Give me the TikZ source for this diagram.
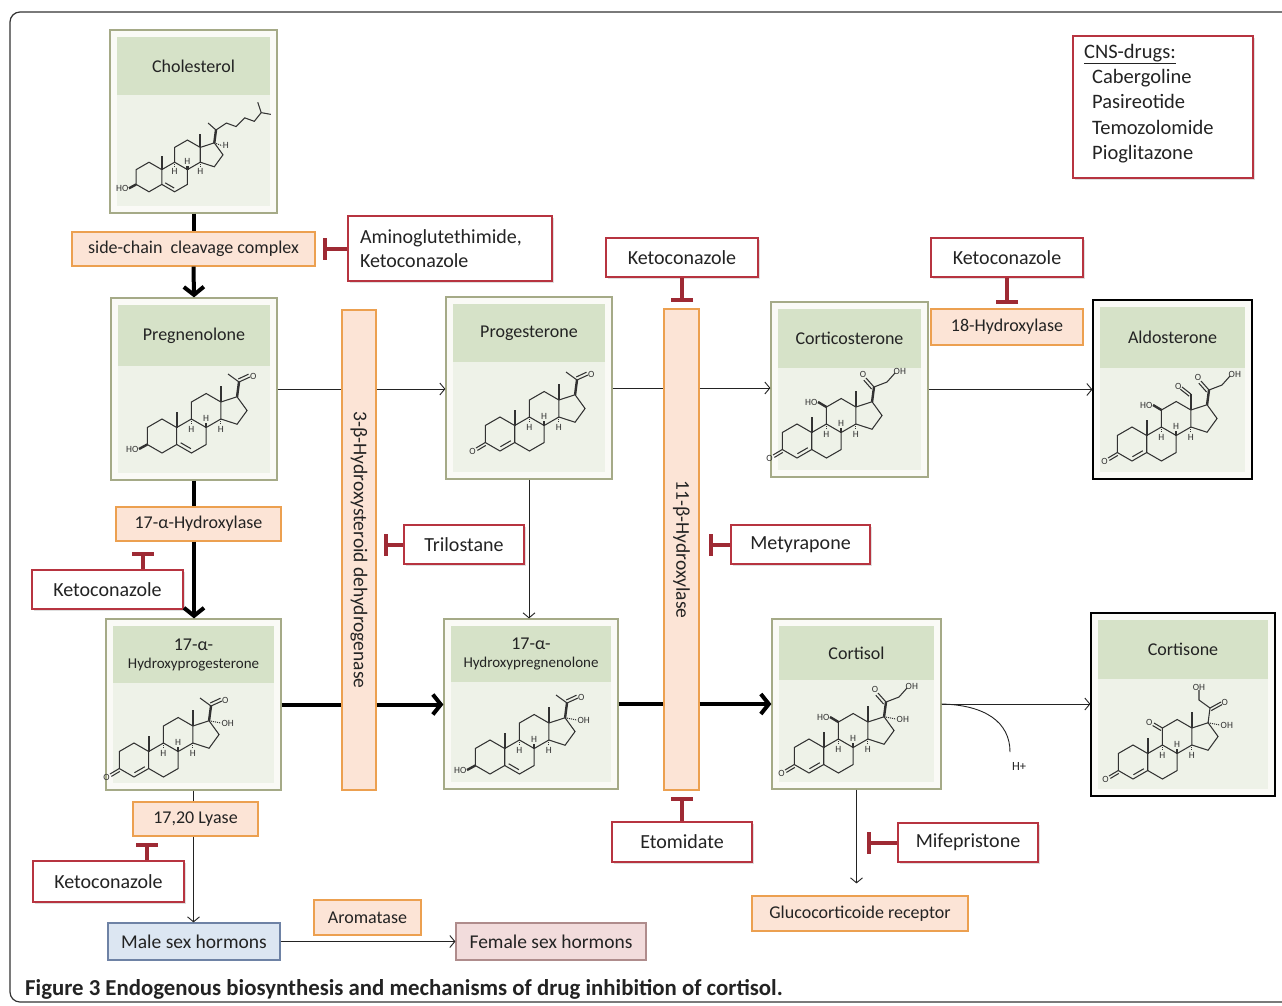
\documentclass[tikz,border=0pt]{standalone}
\usepackage{fontspec}
\setmainfont{Carlito}
\usetikzlibrary{arrows.meta,shadows}

\definecolor{drugred}{RGB}{183,52,64}
\definecolor{inhred}{RGB}{158,42,52}
\definecolor{enzfill}{RGB}{252,228,214}
\definecolor{enzdraw}{RGB}{236,160,80}
\definecolor{molframe}{RGB}{165,170,135}
\definecolor{molhead}{RGB}{214,226,200}
\definecolor{molbody}{RGB}{238,242,232}
\definecolor{molouter}{RGB}{250,250,246}
\definecolor{bondc}{RGB}{50,50,50}
\definecolor{txt}{RGB}{35,35,35}
\definecolor{malefill}{RGB}{220,230,242}
\definecolor{maledraw}{RGB}{110,130,165}
\definecolor{femfill}{RGB}{242,220,220}
\definecolor{femdraw}{RGB}{175,140,140}

\tikzset{
 bond/.style={draw=bondc, line width=1.05pt},
 wdg/.style={draw=bondc, line width=2.4pt},
 hsh/.style={draw=bondc, line width=1pt, densely dotted},
 atom/.style={font=\fontsize{9.5}{10}\selectfont, text=bondc, inner sep=0.5pt},
 pics/steroid/.style={code={\begin{scope}[yscale=-1]
   \draw[bond] (14.72,8.5) -- (0,17) -- (-14.72,8.5) -- (-14.72,-8.5) -- (0,-17) -- (14.72,-8.5) -- cycle;
   \draw[bond] (14.72,-8.5) -- (29.44,-17) -- (44.17,-8.5) -- (44.17,8.5) -- (29.44,17) -- (14.72,8.5);
   \draw[bond] (29.44,17) -- (29.44,34) -- (44.17,42.5) -- (58.89,34) -- (58.89,17) -- (44.17,8.5);
   \draw[bond] (58.89,34) -- (75.06,39.25) -- (85.05,25.5) -- (75.06,11.75) -- (58.89,17);
   \draw[wdg] (14.72,8.5) -- (14.72,24);
   \draw[wdg] (58.89,34) -- (58.89,50);
   \draw[wdg] (44.17,8.5) -- (44.17,13);
   \node[atom] at (44.17,17.5) {H};
   \draw[hsh] (29.44,17) -- (29.44,11);
   \node[atom] at (29.44,6.5) {H};
   \draw[hsh] (58.89,17) -- (58.89,11);
   \node[atom] at (58.89,6.5) {H};
 \end{scope}}},
 pics/hoA/.style={code={\begin{scope}[yscale=-1]
   \draw[wdg] (-14.72,-8.5) -- (-23,-13);
   \node[atom,anchor=east] at (-23,-13.5) {HO};
 \end{scope}}},
 pics/oxoA/.style={code={\begin{scope}[yscale=-1]
   \draw[bond] (-14.72,-8.5) -- (-24,-14);
   \draw[bond] (-14.2,-11.4) -- (-22.6,-16.4);
   \node[atom] at (-27.5,-17.5) {O};
 \end{scope}}},
 pics/dfive/.style={code={\begin{scope}[yscale=-1]
   \draw[bond] (18.68,-6.75) -- (28.98,-12.70);
 \end{scope}}},
 pics/dfour/.style={code={\begin{scope}[yscale=-1]
   \draw[bond] (0.46,-12.70) -- (10.76,-6.75);
 \end{scope}}},
 pics/acetyl/.style={code={\begin{scope}[yscale=-1]
   \draw[wdg] (75.06,39.25) -- (77,54);
   \draw[bond] (77,54) -- (66,62);
   \draw[bond] (77,54) -- (88,59);
   \draw[bond] (76.2,57) -- (86.5,61.8);
   \node[atom,anchor=west] at (87.5,60) {O};
 \end{scope}}},
 pics/ohsev/.style={code={\begin{scope}[yscale=-1]
   \draw[hsh] (75.06,39.25) -- (87,37);
   \node[atom,anchor=west] at (87,37) {OH};
 \end{scope}}},
 pics/corti/.style={code={\begin{scope}[yscale=-1]
   \draw[wdg] (75.06,39.25) -- (77,54);
   \draw[bond] (77,54) -- (69,63);
   \draw[bond] (74.6,52) -- (66.8,60.8);
   \node[atom] at (66,67) {O};
   \draw[bond] (77,54) -- (90,59) -- (98,68);
   \node[atom,anchor=south west] at (96,66) {OH};
 \end{scope}}},
 pics/cortib/.style={code={\begin{scope}[yscale=-1]
   \draw[bond] (75.06,39.25) -- (77,54);
   \draw[bond] (77,54) -- (88,60);
   \draw[bond] (78.2,51.4) -- (89,57.4);
   \node[atom,anchor=west] at (88,60) {O};
   \draw[bond] (77,54) -- (66,62) -- (66,72);
   \node[atom,anchor=south] at (66,71) {OH};
 \end{scope}}},
 pics/hoel/.style={code={\begin{scope}[yscale=-1]
   \draw[wdg] (29.44,34) -- (21,39);
   \node[atom,anchor=east] at (21,39) {HO};
 \end{scope}}},
 pics/oxoel/.style={code={\begin{scope}[yscale=-1]
   \draw[bond] (29.44,34) -- (21,39);
   \draw[bond] (28,31.5) -- (19.6,36.5);
   \node[atom,anchor=east] at (20,39.5) {O};
 \end{scope}}},
 pics/aldoch/.style={code={\begin{scope}[yscale=-1]
   \draw[bond] (58.89,50) -- (50,57);
   \draw[bond] (57.2,47.8) -- (48.3,54.8);
   \node[atom,anchor=east] at (50,58) {O};
 \end{scope}}},
 pics/cholch/.style={code={\begin{scope}[yscale=-1]
   \draw[hsh] (75.06,39.25) -- (84,36);
   \node[atom,anchor=west] at (84,36) {H};
   \draw[wdg] (75.06,39.25) -- (77,54);
   \draw[bond] (77,54) -- (68,62);
   \draw[bond] (77,54) -- (89,62) -- (100,58) -- (110,68) -- (121,64) -- (129,74);
   \draw[bond] (129,74) -- (140,72);
   \draw[bond] (129,74) -- (125,86);
 \end{scope}}},
 enz/.style={draw=enzdraw, fill=enzfill, line width=1.2pt, text=txt, font=\fontsize{18}{20}\selectfont, inner sep=0pt},
 drug/.style={draw=drugred, fill=white, line width=2.6pt, text=txt, font=\fontsize{20}{24}\selectfont, inner sep=0pt, drop shadow={opacity=0.25,shadow xshift=1.5pt,shadow yshift=-1.5pt}},
 mframe/.style={draw=molframe, fill=molouter, line width=1.2pt, inner sep=0pt},
 mtitle/.style={text=txt, font=\fontsize{18}{20}\selectfont, align=center, inner sep=0pt},
 thkline/.style={line width=4pt, draw=black},
 thk/.style={line width=4pt, draw=black, -{Straight Barb[length=8pt,width=20pt]}},
 thinline/.style={line width=0.9pt, draw=txt},
 thin/.style={line width=0.9pt, draw=txt, -{Straight Barb[length=5pt,width=12pt]}},
 inh/.style={draw=inhred, line width=4pt, -{Bar[width=22pt]}},
 sexbox/.style={line width=1.2pt, text=txt, font=\fontsize{19.5}{22}\selectfont, minimum height=37, inner sep=0pt},
}

\newcommand\molbox[8][]{%
 \node[mframe,#1,minimum width={#5-#3},minimum height={#6-#4}] (#2) at ({(#3+#5)/2},{(#4+#6)/2}) {};
 \fill[molhead] ({#3+7},{#4+7}) rectangle ({#5-7},#7);
 \fill[molbody] ({#3+7},#7) rectangle ({#5-7},{#6-7});
 \node[mtitle] (#2t) at ({(#3+#5)/2},{(#4+7+#7)/2}) {#8};
}

\begin{document}
\begin{tikzpicture}[x=1pt,y=-1pt]
\useasboundingbox (0,0) rectangle (1282,1005);
\fill[white] (0,0) rectangle (1282,1005);
\draw[rounded corners=10pt, line width=1.2pt, draw=black!80] (10,12) rectangle (1310,1002);

% molecule boxes
\molbox{chol}{110}{30}{277}{213}{95}{Cholesterol}
\molbox{preg}{111}{298}{277}{480}{366}{Pregnenolone}
\molbox{prog}{446}{297}{612}{479}{362}{Progesterone}
\molbox{cortico}{771}{302}{928}{477}{368}{Corticosterone}
\molbox[draw=black]{aldo}{1093}{300}{1252}{479}{368}{Aldosterone}
\molbox{hp17}{106}{619}{281}{790}{683}{17-α-\\[-2pt]{\fontsize{15}{17}\selectfont Hydroxyprogesterone}}
\molbox{hpreg}{444}{619}{618}{789}{682}{17-α-\\[-2pt]{\fontsize{15}{17}\selectfont Hydroxypregnenolone}}
\molbox{cortisol}{772}{619}{941}{789}{680}{Cortisol}
\molbox[draw=black]{cortisone}{1091}{613}{1275}{796}{679}{Cortisone}

% structures
\path (149,177) pic[scale=0.87]{steroid} pic[scale=0.87]{hoA} pic[scale=0.87]{dfive} pic[scale=0.87]{cholch};
\path (162,436) pic{steroid} pic{hoA} pic{dfive} pic{acetyl};
\path (500,434) pic{steroid} pic{oxoA} pic{dfour} pic{acetyl};
\path (797,441) pic{steroid} pic{oxoA} pic{dfour} pic{corti} pic{hoel};
\path (1132,444) pic{steroid} pic{oxoA} pic{dfour} pic{corti} pic{hoel} pic{aldoch};
\path (134,760) pic{steroid} pic{oxoA} pic{dfour} pic{acetyl} pic{ohsev};
\path (490,757) pic{steroid} pic{hoA} pic{dfive} pic{acetyl} pic{ohsev};
\path (809,756) pic{steroid} pic{oxoA} pic{dfour} pic{corti} pic{hoel} pic{ohsev};
\path (1133,762) pic{steroid} pic{oxoA} pic{dfour} pic{cortib} pic{oxoel} pic{ohsev};

% enzymes
\node[enz, minimum width=243, minimum height=34] (scc) at (193.5,249) {side-chain\ \ cleavage complex};
\node[enz, minimum width=165, minimum height=34] (hyd17) at (198.5,524) {17-α-Hydroxylase};
\node[enz, minimum width=125, minimum height=34] (lyase) at (195.5,819) {17,20 Lyase};
\node[enz, minimum width=152, minimum height=36] (h18) at (1007,327) {18-Hydroxylase};
\node[enz, minimum width=107, minimum height=35] (arom) at (367.5,917.5) {Aromatase};
\node[enz, minimum width=216, minimum height=35] (gr) at (860,913.5) {Glucocorticoide receptor};
\node[enz, minimum width=34, minimum height=480] (hsd) at (359,550) {};
\node[rotate=-90, text=txt, font=\fontsize{19.5}{22}\selectfont] (hsdt) at (hsd) {3-β-Hydroxysteroid dehydrogenase};
\node[enz, minimum width=35, minimum height=481] (hb11) at (681.5,549.5) {};
\node[rotate=-90, text=txt, font=\fontsize{19.5}{22}\selectfont] (hb11t) at (hb11) {11-β-Hydroxylase};

% sex hormones
\node[sexbox, draw=maledraw, fill=malefill, minimum width=172] (male) at (194,941.5) {Male sex hormons};
\node[sexbox, draw=femdraw, fill=femfill, minimum width=190] (female) at (551,941.5) {Female sex hormons};

% drugs
\node[drug, minimum width=204, minimum height=65, text width=180, align=left] (amino) at (450,248.5) {Aminoglutethimide,\\Ketoconazole};
\node[drug, minimum width=151, minimum height=39] (keto1) at (107.5,589.5) {Ketoconazole};
\node[drug, minimum width=151, minimum height=41] (keto2) at (108.5,881.5) {Ketoconazole};
\node[drug, minimum width=120, minimum height=39] (trilo) at (464,544.5) {Trilostane};
\node[drug, minimum width=152, minimum height=39] (keto3) at (682,257.5) {Ketoconazole};
\node[drug, minimum width=139, minimum height=39] (metyr) at (800.5,544.5) {Metyrapone};
\node[drug, minimum width=140, minimum height=40] (etom) at (682,842) {Etomidate};
\node[drug, minimum width=152, minimum height=39] (keto4) at (1007,257.5) {Ketoconazole};
\node[drug, minimum width=140, minimum height=39] (mife) at (968,842.5) {Mifepristone};
\node[drug, minimum width=180, minimum height=142] (cns) at (1163,107) {};
\node[anchor=north west, align=left, text=txt, font=\fontsize{20.5}{25.2}\selectfont, inner sep=0pt] (cnst) at (1084,44)
 {\underline{CNS-drugs:}\\\hspace*{8pt}Cabergoline\\\hspace*{8pt}Pasireotide\\\hspace*{8pt}Temozolomide\\\hspace*{8pt}Pioglitazone};

% main arrows
\draw[thkline] (chol.south) -- (scc.north);
\draw[thk] (scc.south) -- (preg.north);
\draw[thkline] (preg.south) -- (preg.south |- hyd17.north);
\draw[thk] (preg.south |- hyd17.south) -- (preg.south |- hp17.north);
\draw[thinline] (hp17.south) -- (hp17.south |- lyase.north);
\draw[thin] (hp17.south |- lyase.south) -- (hp17.south |- male.north);
\draw[thin] (male.east) -- (female.west);

\draw[thinline] (preg.east) -- (preg.east -| hsd.west);
\draw[thin] (preg.east -| hsd.east) -- (preg.east -| prog.west);
\draw[thinline] (prog.east) -- (prog.east -| hb11.west);
\draw[thin] (prog.east -| hb11.east) -- (prog.east -| cortico.west);
\draw[thin] (cortico.east) -- (cortico.east -| aldo.west);
\draw[thin] (prog.south) -- (prog.south |- hpreg.north);

\draw[thkline] (hp17.east) -- (hp17.east -| hsd.west);
\draw[thk] (hp17.east -| hsd.east) -- (hp17.east -| hpreg.west);
\draw[thkline] (hpreg.east) -- (hpreg.east -| hb11.west);
\draw[thk] (hpreg.east -| hb11.east) -- (hpreg.east -| cortisol.west);
\draw[thin] (cortisol.east) -- (cortisol.east -| cortisone.west);

\node[text=txt, font=\fontsize{12.5}{14}\selectfont, inner sep=1pt] (hplus) at (1019,766) {H+};
\coordinate (hend) at (1010,752);
\draw[thinline] (cortisol.east) .. controls (985,705) and (1010,722) .. (hend);

\draw[thin, shorten >=12pt] (cortisol.south) -- (cortisol.south |- gr.north);
\coordinate (mifet) at (cortisol.south |- mife.west);

% inhibitions
\draw[inh, shorten >=7pt] (amino.west) -- (amino.west -| scc.east);
\draw[inh, shorten >=10pt] ([xshift=35.5pt]keto1.north) -- ([xshift=35.5pt]keto1.north |- hyd17.south);
\draw[inh, shorten >=6pt] ([xshift=38.5pt]keto2.north) -- ([xshift=38.5pt]keto2.north |- lyase.south);
\draw[inh, shorten >=7pt] (trilo.west) -- (trilo.west -| hsd.east);
\draw[inh, shorten >=6pt] (keto3.south) -- (keto3.south |- hb11.north);
\draw[inh, shorten >=9pt] (metyr.west) -- (metyr.west -| hb11.east);
\draw[inh, shorten >=6pt] (etom.north) -- (etom.north |- hb11.south);
\draw[inh, shorten >=4pt] (keto4.south) -- (keto4.south |- h18.north);
\draw[inh, shorten >=10pt] (mife.west) -- (mifet);

% caption
\node[anchor=base west, text=txt, font=\bfseries\fontsize{22.8}{24}\selectfont, inner sep=0pt] (cap) at (25,995)
 {Figure 3 Endogenous biosynthesis and mechanisms of drug inhibition of cortisol.};
\end{tikzpicture}
\end{document}
